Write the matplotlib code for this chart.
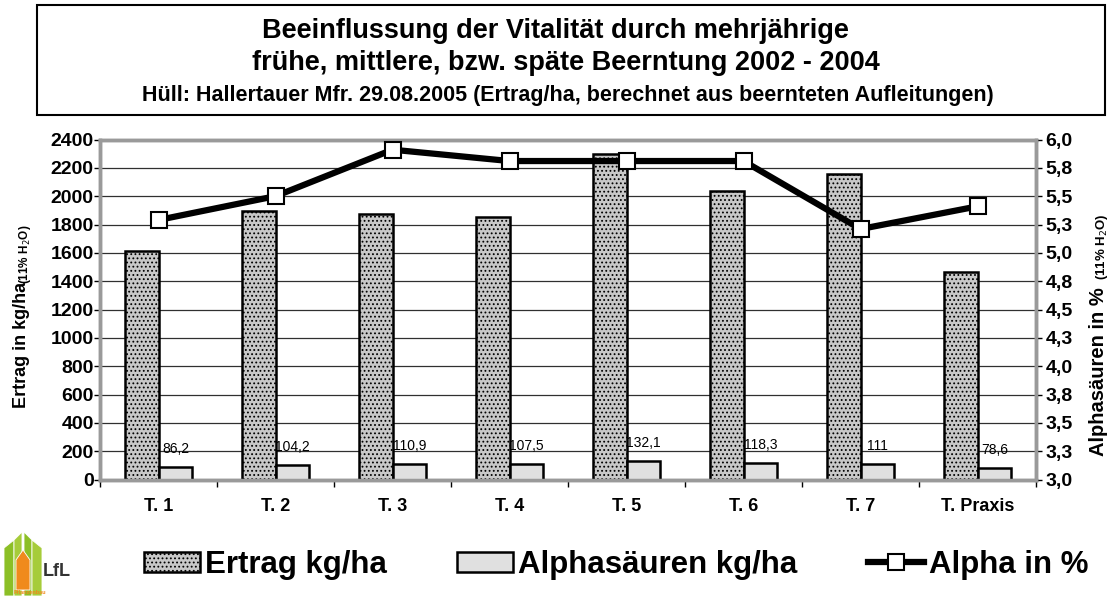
import matplotlib
matplotlib.use("Agg")
import matplotlib.pyplot as plt
from matplotlib.patches import Rectangle, Polygon, Patch
from matplotlib.lines import Line2D
import numpy as np

plt.rcParams['font.family'] = ['Liberation Sans', 'DejaVu Sans']
plt.rcParams['hatch.color'] = '#9a9a9a'
plt.rcParams['hatch.linewidth'] = 0.8

kategorien = ['T. 1', 'T. 2', 'T. 3', 'T. 4', 'T. 5', 'T. 6', 'T. 7', 'T. Praxis']
ertrag = [1615, 1895, 1873, 1851, 2295, 2033, 2155, 1463]
alphasaeuren = [86.2, 104.2, 110.9, 107.5, 132.1, 118.3, 111, 78.6]
alpha_label = ['86,2', '104,2', '110,9', '107,5', '132,1', '118,3', '111', '78,6']
alpha_prozent = [5.29, 5.50, 5.91, 5.81, 5.81, 5.81, 5.21, 5.41]
links_ticks = list(range(0, 2401, 200))
rechts_ticks = [3.0 + 0.25 * i for i in range(13)]
rechts_labels = ['3,0', '3,3', '3,5', '3,8', '4,0', '4,3', '4,5', '4,8',
                 '5,0', '5,3', '5,5', '5,8', '6,0']

W, H = 1110, 601
fig = plt.figure(figsize=(W / 100, H / 100), dpi=100)


def px(x, y):
    # pixel (von oben links) -> figure fraction
    return x / W, 1 - y / H


# Titelbox
x0, y0 = px(37, 115)
fig.patches.append(Rectangle((x0, y0), 1068 / W, 110 / H, transform=fig.transFigure,
                             fill=False, edgecolor='black', lw=1.5))
fig.text(*px(555, 31), 'Beeinflussung der Vitalität durch mehrjährige',
         ha='center', va='center', fontsize=19.5, fontweight='bold')
fig.text(*px(566, 63), 'frühe, mittlere, bzw. späte Beerntung 2002 - 2004',
         ha='center', va='center', fontsize=19.5, fontweight='bold')
fig.text(*px(568, 96), 'Hüll: Hallertauer Mfr. 29.08.2005 (Ertrag/ha, berechnet aus beernteten Aufleitungen)',
         ha='center', va='center', fontsize=15.5, fontweight='bold')

ax = fig.add_axes([100 / W, 1 - 479.5 / H, 936 / W, 340 / H])
x = np.arange(len(kategorien))
bw = 0.29

ax.bar(x - bw / 2, ertrag, bw, facecolor='#c8c8c8', edgecolor='black', lw=1.8,
       hatch='....', zorder=3)
ax.bar(x + bw / 2, alphasaeuren, bw, facecolor='#e0e0e0', edgecolor='black', lw=1.8,
       zorder=3)

for xi, v, lab in zip(x, alphasaeuren, alpha_label):
    ax.annotate(lab, (xi + bw / 2, v), xytext=(0, 13), textcoords='offset points',
                ha='center', va='center', fontsize=10)

ax.set_xlim(-0.5, len(kategorien) - 0.5)
ax.set_ylim(0, 2400)
ax.set_yticks(links_ticks)
ax.set_yticklabels([str(t) for t in links_ticks], fontsize=14, fontweight='bold')
ax.yaxis.grid(True, color='#303030', lw=0.9)
ax.set_axisbelow(True)
ax.set_xticks(x)
ax.set_xticklabels(kategorien, fontsize=13, fontweight='bold')
ax.set_xticks(np.arange(-0.5, len(kategorien)), minor=True)
ax.tick_params(axis='x', which='major', length=0, pad=13)
ax.tick_params(axis='x', which='minor', length=5, width=1, color='black', direction='out')
ax.tick_params(axis='y', length=4, width=1, color='black', direction='out', pad=0.5)
for s in ax.spines.values():
    s.set_color('#9a9a9a')
    s.set_linewidth(2.5)

ax2 = ax.twinx()
ax2.plot(x, alpha_prozent, color='black', lw=4.5, marker='s', ms=11,
         mfc='white', mec='black', mew=1.5, zorder=5)
ax2.set_ylim(3, 6)
ax2.set_yticks(rechts_ticks)
ax2.set_yticklabels(rechts_labels, fontsize=14, fontweight='bold')
ax2.tick_params(axis='y', length=4, width=1, color='black', direction='out', pad=3)
for s in ax2.spines.values():
    s.set_color('#9a9a9a')
    s.set_linewidth(2.5)

# Achsentitel
fig.text(*px(22, 408), 'Ertrag in kg/ha', rotation=90, ha='center', va='bottom',
         fontsize=13, fontweight='bold')
fig.text(*px(25, 284), '(11% H$_2$O)', rotation=90, ha='center', va='bottom',
         fontsize=8.5, fontweight='bold')
fig.text(*px(1098, 456), 'Alphasäuren in %', rotation=90, ha='center', va='bottom',
         fontsize=14.5, fontweight='bold')
fig.text(*px(1102, 280), '(11% H$_2$O)', rotation=90, ha='center', va='bottom',
         fontsize=9.5, fontweight='bold')

# Legende
handles = [Patch(facecolor='#c8c8c8', edgecolor='black', lw=1.8, hatch='....'),
           Patch(facecolor='#e0e0e0', edgecolor='black', lw=1.8),
           Line2D([], [], color='black', lw=4.5, marker='s', ms=12, mfc='white',
                  mec='black', mew=1.5)]
fig.legend(handles, ['Ertrag kg/ha', 'Alphasäuren kg/ha', 'Alpha in %'],
           loc='center', bbox_to_anchor=px(616, 565), ncol=3, frameon=False,
           prop={'size': 22.5, 'weight': 'bold'}, handlelength=1.8, handleheight=0.64,
           handletextpad=0.16, columnspacing=2.25)

# Logo
logo = [
    ([(4, 548), (14, 540), (14, 596), (4, 596)], '#8cbf26'),
    ([(14, 540), (22, 532), (22, 596), (14, 596)], '#a6cc3a'),
    ([(24, 532), (32, 540), (32, 596), (24, 596)], '#8cbf26'),
    ([(32, 540), (42, 548), (42, 596), (32, 596)], '#a6cc3a'),
    ([(16, 560), (23, 550), (30, 560), (30, 590), (16, 590)], '#f08a1c'),
]
for pts, c in logo:
    fig.patches.append(Polygon([px(*p) for p in pts], closed=True, transform=fig.transFigure,
                               facecolor=c, edgecolor='white', lw=0.6))
fig.text(*px(43, 572), 'LfL', ha='left', va='center', fontsize=13, fontweight='bold',
         color='#333333')
fig.text(*px(30, 593), 'Pflanzenbau', ha='center', va='center', fontsize=4,
         fontweight='bold', color='#f08a1c')

fig.savefig('out.png', dpi=100)
